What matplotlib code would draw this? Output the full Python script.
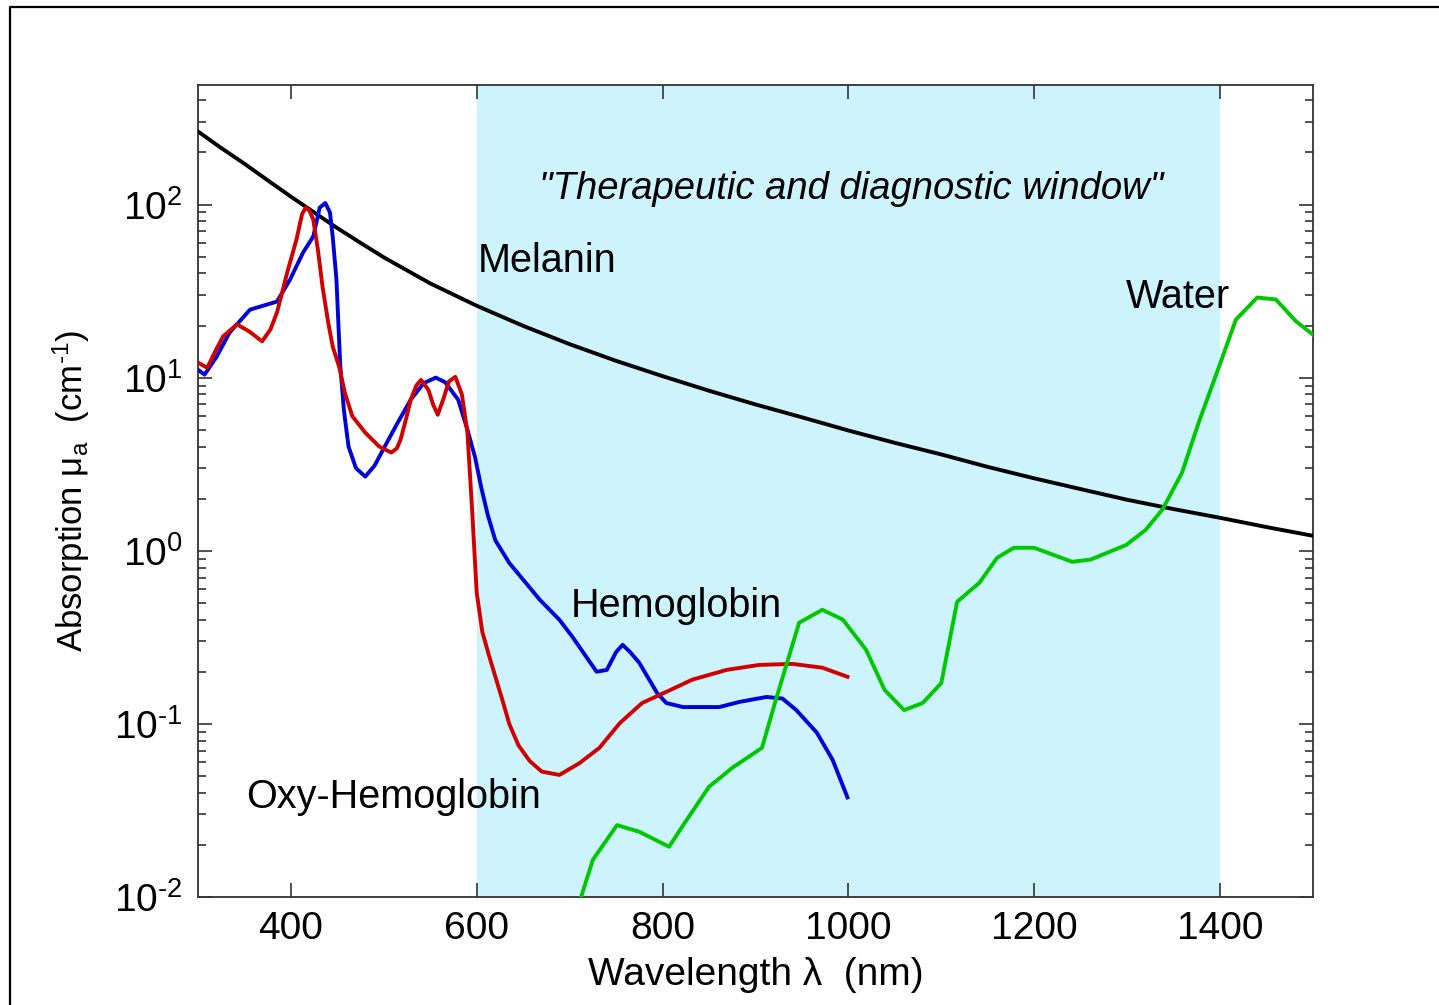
import matplotlib
matplotlib.use("Agg")
import matplotlib.pyplot as plt
from matplotlib.lines import Line2D
from matplotlib.ticker import FuncFormatter
import numpy as np

plt.rcParams['font.family'] = ['Liberation Sans', 'DejaVu Sans']
plt.rcParams['mathtext.fontset'] = 'custom'
plt.rcParams['mathtext.rm'] = 'Liberation Sans'
plt.rcParams['mathtext.default'] = 'regular'
plt.rcParams['axes.unicode_minus'] = False

# Melanin
mel_nm = [300, 325, 350, 375, 400, 425, 450, 475, 500, 550, 600, 650, 700, 750, 800,
          850, 900, 950, 1000, 1050, 1100, 1150, 1200, 1250, 1300, 1350, 1400, 1450, 1500]
mel_mua = [264, 212, 172, 138, 111, 90, 73, 60, 49.5, 35, 26, 19.9, 15.6, 12.5, 10.2,
           8.4, 7.0, 5.9, 4.95, 4.2, 3.6, 3.05, 2.62, 2.27, 1.97, 1.74, 1.55, 1.37, 1.22]

# Hemoglobin (deoxy)
hb_nm = [300, 307, 320, 334, 356, 385, 399, 413, 424, 431, 437, 442, 445, 449, 453,
         457, 462, 470, 480, 490, 501, 515, 529, 543, 556, 566, 580, 590, 598, 605,
         612, 620, 635, 650, 668, 689, 703, 729, 740, 750, 757, 765, 775, 794, 804,
         822, 861, 883, 912, 929, 944, 966, 983, 999]
hb_mua = [11.1, 10.4, 13.2, 18.2, 24.7, 27.5, 36.8, 52.7, 65.3, 96, 102, 90, 65, 36.8, 12,
          6.5, 4.0, 3.0, 2.68, 3.1, 4.0, 5.5, 7.46, 9.3, 10.0, 9.4, 7.46, 5.0, 3.5, 2.3,
          1.6, 1.15, 0.85, 0.68, 0.52, 0.399, 0.318, 0.2, 0.205, 0.26, 0.286, 0.26, 0.225, 0.151, 0.132,
          0.125, 0.125, 0.134, 0.143, 0.14, 0.12, 0.089, 0.062, 0.0376]

# Oxy-hemoglobin
hbo_nm = [300, 310, 318, 327, 342, 355, 369, 378, 385, 396, 406, 412, 416, 420, 424,
          429, 434, 440, 445, 452, 458, 466, 480, 495, 508, 514, 518, 524, 529, 535,
          540, 548, 553, 558, 564, 570, 577, 584, 590, 595, 600, 606, 613, 621, 628,
          635, 645, 657, 670, 689, 711, 732, 754, 778, 804, 832, 869, 904, 940, 972, 999]
hbo_mua = [12.2, 11.4, 14, 17.3, 20.3, 18.5, 16.2, 19, 23.8, 40.4, 62.8, 88, 96, 92, 81.9,
           55, 33.6, 21, 15.1, 11.5, 8.2, 6.0, 4.81, 4.0, 3.69, 3.9, 4.38, 5.8, 7.46, 9.0,
           9.7, 8.5, 7.0, 6.1, 7.5, 9.5, 10.1, 8.0, 4.8, 1.73, 0.57, 0.34, 0.25, 0.18, 0.135,
           0.1, 0.075, 0.061, 0.053, 0.0507, 0.0595, 0.0727, 0.101, 0.132, 0.153, 0.18, 0.205, 0.219, 0.222, 0.211, 0.187]

# Water
w_nm = [711, 725, 751, 775, 807, 826, 850, 875, 907, 922, 947, 972, 994, 1019, 1039,
        1060, 1080, 1100, 1117, 1141, 1160, 1178, 1200, 1241, 1261, 1299, 1320, 1338, 1359, 1377,
        1399, 1417, 1440, 1460, 1482, 1500]
w_mua = [0.0095, 0.0164, 0.026, 0.0238, 0.0195, 0.0279, 0.0433, 0.0557, 0.0727, 0.138, 0.384, 0.456, 0.40, 0.268, 0.157,
         0.12, 0.132, 0.172, 0.507, 0.653, 0.91, 1.04, 1.04, 0.863, 0.89, 1.08, 1.32, 1.73, 2.82, 5.5,
         11.6, 21.6, 29.0, 28.3, 21.1, 17.7]

window = (600, 1400)


def pow10(v, pos):
    return '10$^{\\text{%d}}$' % int(round(np.log10(v)))


fig = plt.figure(figsize=(14.39, 10.05), dpi=100)
ax = fig.add_axes([0.1376, 0.1075, 0.7748, 0.8079])

ax.axvspan(window[0], window[1], color='#cdf3fd', zorder=0, lw=0)
ax.plot(mel_nm, mel_mua, color='black', lw=2.8, zorder=3)
ax.plot(hb_nm, hb_mua, color='#0000d8', lw=2.8, zorder=4)
ax.plot(hbo_nm, hbo_mua, color='#d00000', lw=2.8, zorder=5)
ax.plot(w_nm, w_mua, color='#00c800', lw=2.8, zorder=6)

ax.set_yscale('log')
ax.set_xlim(300, 1500)
ax.set_ylim(0.01, 490)
ax.set_xticks([400, 600, 800, 1000, 1200, 1400])
ax.minorticks_off()
ax.set_yticks([1e-2, 1e-1, 1e0, 1e1, 1e2])
ax.set_yticks([k * 10.0 ** e for e in range(-2, 3) for k in range(2, 10) if k * 10.0 ** e < 490], minor=True)
ax.yaxis.set_major_formatter(FuncFormatter(pow10))

ax.tick_params(which='both', direction='in', top=True, right=True, color='#333333', width=1.2)
ax.tick_params(which='major', length=10, labelsize=28)
ax.tick_params(axis='x', which='major', pad=10)
ax.tick_params(axis='y', which='major', pad=11)
ax.tick_params(which='minor', length=6)
ax.tick_params(axis='x', which='minor', top=False, bottom=False)
for s in ax.spines.values():
    s.set_color('#333333')
    s.set_linewidth(1.3)

ax.set_xlabel('Wavelength λ  (nm)', fontsize=28, labelpad=7)
ax.set_ylabel('Absorption μ$_\\mathregular{a}$  (cm$^\\text{-1}$)', fontsize=25, labelpad=16)

ax.text(1003, 107, '"Therapeutic and diagnostic window"', fontsize=27.5, style='italic',
        ha='center', va='baseline', zorder=7)
ax.text(601, 41, 'Melanin', fontsize=28.5, ha='left', va='baseline', zorder=7)
ax.text(1299, 25.4, 'Water', fontsize=28.5, ha='left', va='baseline', zorder=7)
ax.text(701, 0.4155, 'Hemoglobin', fontsize=28.5, ha='left', va='baseline', zorder=7)
ax.text(351.6, 0.0327, 'Oxy-Hemoglobin', fontsize=28.5, ha='left', va='baseline', zorder=7)

# outer frame (left and top edges visible)
fig.add_artist(Line2D([10 / 1439, 10 / 1439, 1.0], [0.0, 1 - 7 / 1005, 1 - 7 / 1005],
                      transform=fig.transFigure, color='black', lw=1.6))

fig.savefig('out.png', dpi=100)
